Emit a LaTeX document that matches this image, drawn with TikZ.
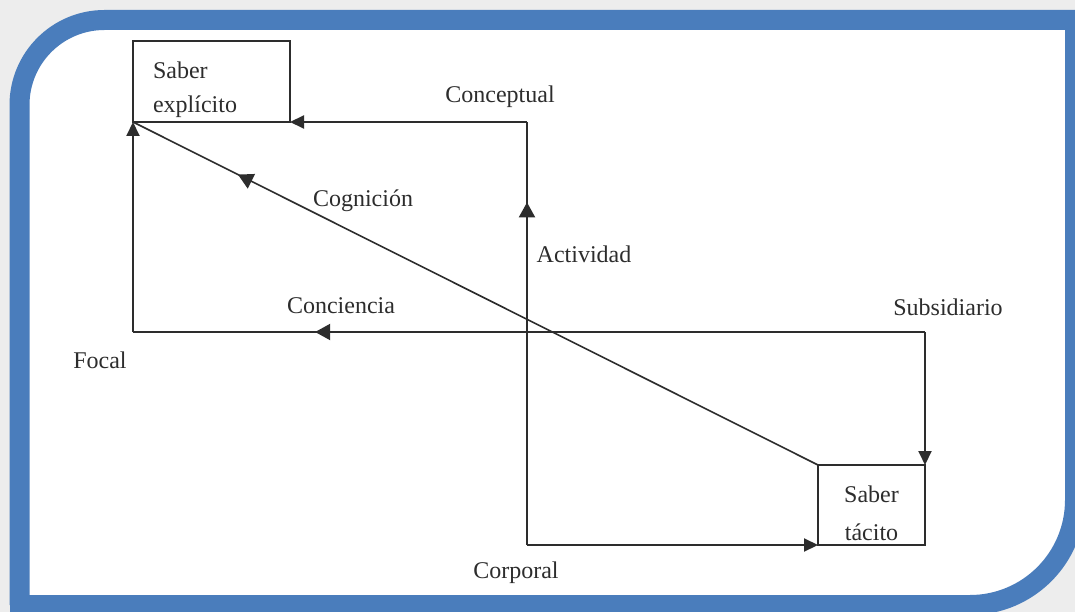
\documentclass[tikz,border=0pt]{standalone}
\usepackage{fontspec}
\setmainfont{Liberation Serif}
\usetikzlibrary{arrows.meta,decorations.markings}
\definecolor{framebl}{RGB}{74,125,188}
\definecolor{ink}{RGB}{45,45,45}
\tikzset{
  conn/.style={draw=ink,line width=2pt},
  endarrow/.style={-{Triangle[length=14pt,width=13pt]}},
  midarrow/.style={postaction={decorate,decoration={markings,
    mark=at position #1 with {\arrow{Triangle[length=15pt,width=16pt]}}}}},
  lbl/.style={text=ink,font=\fontsize{24}{30}\selectfont,inner sep=0pt},
  box/.style={draw=ink,line width=2pt,text=ink,outer sep=0pt,inner ysep=0pt},
}
\begin{document}
\begin{tikzpicture}[x=1pt,y=-1pt]
\useasboundingbox (0,0) rectangle (1075,612);
\fill[gray!14] (0,0) rectangle (1075,612);
% blue frame
\fill[white] (19.5,605) [rounded corners=85pt] -- (19.5,20) [sharp corners] -- (1075,20) [rounded corners=105pt] -- (1075,605) [sharp corners] -- cycle;
\draw[framebl,line width=20pt] (19.5,605) [rounded corners=85pt] -- (19.5,20) [sharp corners] -- (1085,20) -- (1075,20) [rounded corners=105pt] -- (1075,605) [sharp corners] -- (10,605) -- (19.5,605);
% boxes
\node[box,minimum width=157pt,minimum height=81pt,anchor=north west] (se) at (133,41)
  {\raisebox{-8pt}[\height][\depth]{\parbox{117pt}{\fontsize{24}{34}\selectfont Saber\\expl\'icito}}};
\node[box,minimum width=107pt,minimum height=80pt,inner xsep=0pt,anchor=north west] (st) at (818,465)
  {\raisebox{-8pt}[\height][\depth]{\parbox{107pt}{\centering\fontsize{24}{38}\selectfont Saber\\t\'acito}}};
% corner points
\coordinate (focal) at (133,332);
\coordinate (sub) at (925,332);
\coordinate (conc) at (527,122);
\coordinate (corp) at (527,545);
% connectors
\draw[conn,midarrow=0.77] (sub) -- (focal);
\draw[conn,endarrow] (focal) -- (se.south west);
\draw[conn,endarrow] (sub) -- (st.north east);
\draw[conn,endarrow] (conc) -- (se.south east);
\draw[conn,midarrow=0.81] (corp) -- (conc);
\draw[conn,endarrow] (corp) -- (st.south west);
\draw[conn,line width=1.6pt,midarrow=0.847] (st.north west) -- (se.south west);
% labels
\node[lbl] (l1) at (500,97) {Conceptual};
\node[lbl] (l2) at (363,201) {Cognici\'on};
\node[lbl] (l3) at (584,254) {Actividad};
\node[lbl] (l4) at (341,306) {Conciencia};
\node[lbl] (l5) at (948,307) {Subsidiario};
\node[lbl] (l6) at (100,360) {Focal};
\node[lbl] (l7) at (516,573) {Corporal};
\end{tikzpicture}
\end{document}
